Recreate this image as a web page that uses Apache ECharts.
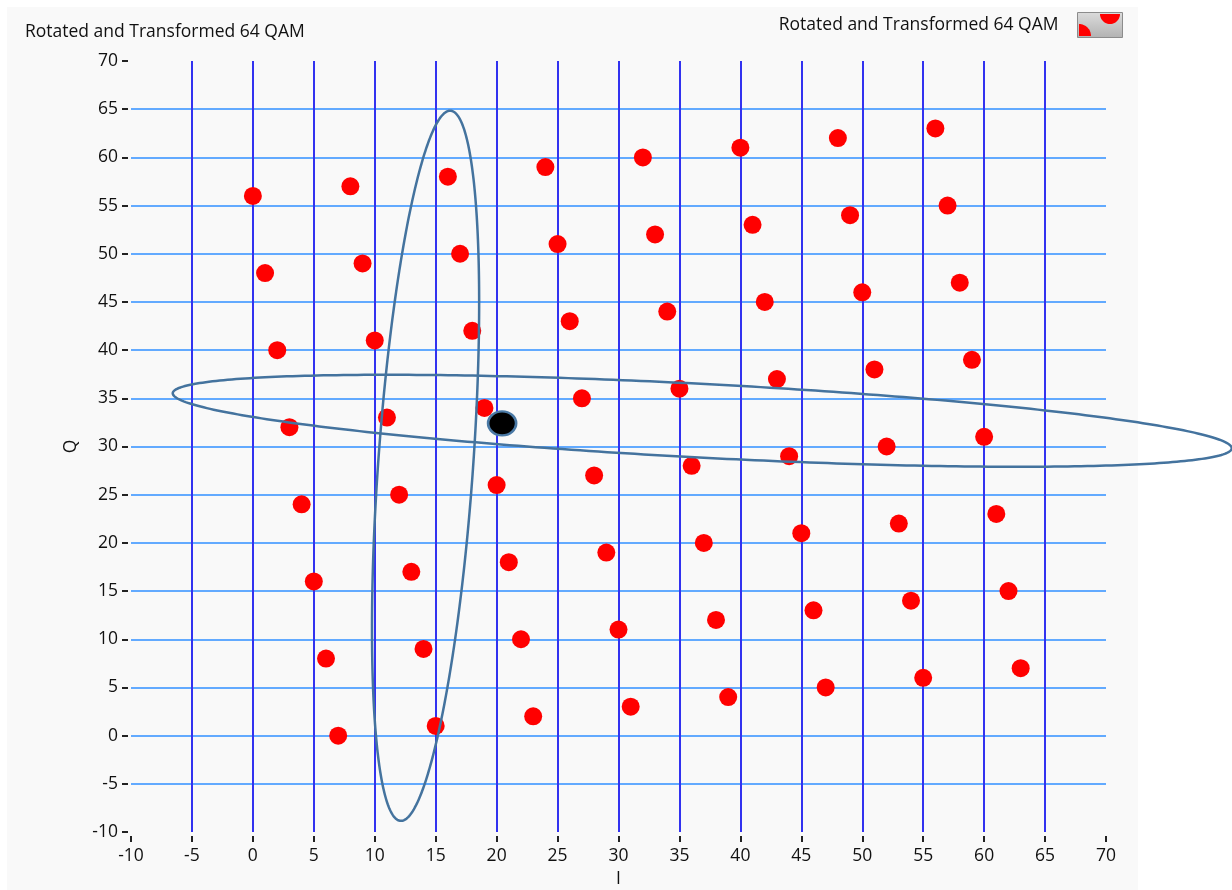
<!DOCTYPE html>
<html>
<head>
<meta charset="utf-8">
<script src="https://cdn.jsdelivr.net/npm/echarts@6/dist/echarts.min.js"></script>
<style>
html,body{margin:0;padding:0;background:#ffffff;}
#c{width:1232px;height:890px;}
</style>
</head>
<body>
<div id="c"></div>
<script>
// ---------- data ----------
const chartTitle = 'Rotated and Transformed 64 QAM';
const seriesName = 'Rotated and Transformed 64 QAM';
const xAxisName = 'I';
const yAxisName = 'Q';
const axisMin = -10;
const axisMax = 70;
const tickStep = 5;

// constellation points (I, Q)
const iValues = [
  0, 1, 2, 3, 4, 5, 6, 7,
  8, 9, 10, 11, 12, 13, 14, 15,
  16, 17, 18, 19, 20, 21, 22, 23,
  24, 25, 26, 27, 28, 29, 30, 31,
  32, 33, 34, 35, 36, 37, 38, 39,
  40, 41, 42, 43, 44, 45, 46, 47,
  48, 49, 50, 51, 52, 53, 54, 55,
  56, 57, 58, 59, 60, 61, 62, 63
];
const qValues = [
  56, 48, 40, 32, 24, 16, 8, 0,
  57, 49, 41, 33, 25, 17, 9, 1,
  58, 50, 42, 34, 26, 18, 10, 2,
  59, 51, 43, 35, 27, 19, 11, 3,
  60, 52, 44, 36, 28, 20, 12, 4,
  61, 53, 45, 37, 29, 21, 13, 5,
  62, 54, 46, 38, 30, 22, 14, 6,
  63, 55, 47, 39, 31, 23, 15, 7
];

// highlighted point (I, Q)
const markerI = [20.45];
const markerQ = [32.4];

// ellipses: centre, semi-axes, rotation (degrees)
const ellipseCenterI = [36.87, 14.17];
const ellipseCenterQ = [32.67, 28.0];
const ellipseSemiMajor = [43.54, 36.9];
const ellipseSemiMinor = [3.82, 3.90];
const ellipseAngleDeg = [-3.78, 86.83];

// ---------- chart ----------
const font = "'Open Sans', 'Noto Sans', sans-serif";
const txt = { fontFamily: font, fontSize: 17.5, color: '#111111' };

const points = iValues.map((v, i) => [v, qValues[i]]);
const marker = markerI.map((v, i) => [v, markerQ[i]]);
const ellipses = ellipseCenterI.map((c, i) => [c, ellipseCenterQ[i], ellipseSemiMajor[i], ellipseSemiMinor[i], ellipseAngleDeg[i]]);

// legend icon red marks (semicircle + quarter circle)
function arcPoints(cx, cy, r, a0, a1, n) {
  const p = [[cx, cy]];
  for (let k = 0; k <= n; k++) {
    const t = a0 + (a1 - a0) * k / n;
    p.push([cx + r * Math.cos(t), cy + r * Math.sin(t)]);
  }
  return p;
}

const chart = echarts.init(document.getElementById('c'), null, { renderer: 'canvas' });

const option = {
  backgroundColor: '#ffffff',
  animation: false,
  title: {
    text: chartTitle,
    left: 20,
    top: 18,
    textStyle: Object.assign({ fontWeight: 'normal' }, txt)
  },
  legend: {
    data: [seriesName],
    right: 104,
    top: 7,
    align: 'right',
    itemWidth: 45,
    itemHeight: 25,
    icon: 'rect',
    selectedMode: false,
    itemStyle: {
      color: {
        type: 'linear', x: 0, y: 0, x2: 0, y2: 1,
        colorStops: [{ offset: 0, color: '#dcdcdc' }, { offset: 1, color: '#b2b2b2' }]
      },
      borderColor: '#8c8c8c',
      borderWidth: 1
    },
    textStyle: Object.assign({ padding: [0, 14, 0, 0] }, txt)
  },
  graphic: {
    elements: [
      { type: 'rect', z: -100, silent: true, shape: { x: 7, y: 7, width: 1131, height: 883 }, style: { fill: '#f9f9f9' } },
      { type: 'polygon', z: 100, silent: true, shape: { points: arcPoints(1079, 36, 12, -Math.PI / 2, 0, 16) }, style: { fill: '#ff0000' } },
      { type: 'polygon', z: 100, silent: true, shape: { points: arcPoints(1110, 14, 10, 0, Math.PI, 24) }, style: { fill: '#ff0000' } }
    ]
  },
  grid: { left: 131, right: 126, top: 61, bottom: 58, containLabel: false, outerBoundsMode: 'none' },
  xAxis: {
    type: 'value',
    min: axisMin, max: axisMax, interval: tickStep,
    name: xAxisName,
    nameLocation: 'middle',
    nameGap: 34,
    nameTextStyle: txt,
    offset: 4,
    axisLine: { show: false, onZero: false },
    axisTick: { show: true, length: 6, lineStyle: { color: '#222222', width: 2 } },
    axisLabel: Object.assign({ margin: 11 }, txt),
    splitLine: { show: true, showMinLine: false, showMaxLine: false, lineStyle: { color: '#3232f0', width: 2 } }
  },
  yAxis: {
    type: 'value',
    min: axisMin, max: axisMax, interval: tickStep,
    name: yAxisName,
    nameLocation: 'middle',
    nameGap: 48,
    nameTextStyle: txt,
    offset: 3,
    axisLine: { show: false, onZero: false },
    axisTick: { show: true, length: 6, lineStyle: { color: '#222222', width: 2 } },
    axisLabel: Object.assign({ margin: 10 }, txt),
    splitLine: { show: true, showMinLine: false, showMaxLine: false, lineStyle: { color: '#62aaff', width: 2 } }
  },
  series: [
    {
      name: seriesName,
      type: 'scatter',
      data: points,
      symbol: 'circle',
      symbolSize: 18,
      itemStyle: { color: '#ff0000', opacity: 1 },
      z: 3
    },
    {
      name: 'ellipses',
      type: 'custom',
      data: ellipses,
      clip: false,
      silent: true,
      z: 5,
      encode: { x: 0, y: 1 },
      renderItem: function (params, api) {
        const cx = api.value(0), cy = api.value(1), a = api.value(2), b = api.value(3);
        const ang = api.value(4) * Math.PI / 180;
        const pts = [];
        const n = 360;
        for (let k = 0; k < n; k++) {
          const t = k / n * 2 * Math.PI;
          const x = cx + a * Math.cos(t) * Math.cos(ang) - b * Math.sin(t) * Math.sin(ang);
          const y = cy + a * Math.cos(t) * Math.sin(ang) + b * Math.sin(t) * Math.cos(ang);
          pts.push(api.coord([x, y]));
        }
        return { type: 'polygon', shape: { points: pts }, style: { fill: 'none', stroke: '#44739e', lineWidth: 2.5 } };
      }
    },
    {
      name: 'marker',
      type: 'scatter',
      data: marker,
      symbol: 'circle',
      symbolSize: [28, 24],
      itemStyle: { color: '#000000', borderColor: '#4a79a5', borderWidth: 2.5, opacity: 1 },
      z: 10
    }
  ]
};
chart.setOption(option);
</script>
</body>
</html>
